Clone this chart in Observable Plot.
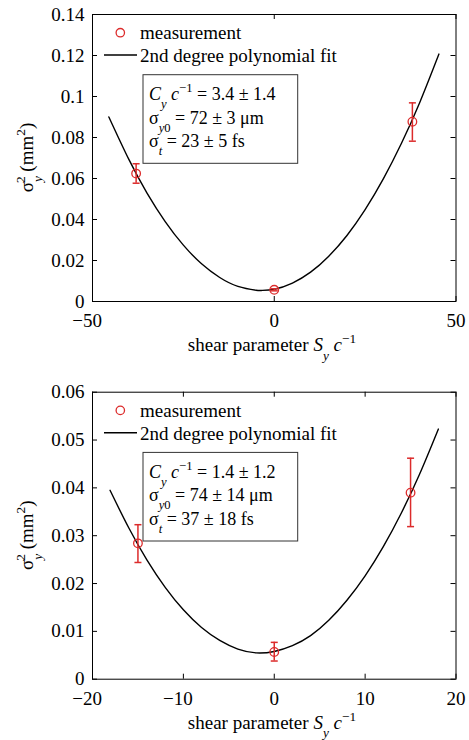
<!DOCTYPE html>
<html>
<head>
<meta charset="utf-8">
<script src="https://cdn.jsdelivr.net/npm/d3@7"></script>
<script src="https://cdn.jsdelivr.net/npm/@observablehq/plot@0.6"></script>
<style>
  html, body { margin: 0; padding: 0; background: white; font-family: "Liberation Serif"; }
  svg { display: block; }
  #chart { width: 469px; }
</style>
</head>
<body>
<div id="chart"></div>
<script>
// ---------- Top panel data ----------
const topXTicks = [-50, 0, 50];
const topYTicks = [0, 0.02, 0.04, 0.06, 0.08, 0.1, 0.12, 0.14];
const topYTickLabels = ["0", "0.02", "0.04", "0.06", "0.08", "0.1", "0.12", "0.14"];
const topShear = [-38, 0, 38];
const topSigma2 = [0.0624, 0.0057, 0.0877];
const topErrLo = [0.0577, 0.0052, 0.0782];
const topErrHi = [0.0672, 0.0062, 0.0969];
const topFitX = [-45.5, -40, -35, -30, -25, -20, -15, -10, -5, -3.6, 0, 5, 10, 15, 20, 25, 30, 35, 40, 45.3];
const topFitY = [0.0900, 0.0693, 0.0529, 0.0390, 0.0275, 0.0184, 0.0117, 0.0074, 0.0055, 0.0054, 0.0060, 0.0090, 0.0143, 0.0221, 0.0322, 0.0448, 0.0598, 0.0772, 0.0970, 0.1207];
const topFitParams = ["3.4 ± 1.4", "72 ± 3 μm", "23 ± 5 fs"];

// ---------- Bottom panel data ----------
const botXTicks = [-20, -10, 0, 10, 20];
const botYTicks = [0, 0.01, 0.02, 0.03, 0.04, 0.05, 0.06];
const botYTickLabels = ["0", "0.01", "0.02", "0.03", "0.04", "0.05", "0.06"];
const botShear = [-15, 0, 15];
const botSigma2 = [0.0284, 0.0057, 0.0390];
const botErrLo = [0.0244, 0.0038, 0.0319];
const botErrHi = [0.0323, 0.0077, 0.0462];
const botFitX = [-18.07, -16, -14, -12, -10, -8, -6, -4, -2, 0, 2, 4, 6, 8, 10, 12, 14, 16, 18.06];
const botFitY = [0.0395, 0.0316, 0.0249, 0.0192, 0.0145, 0.0108, 0.0081, 0.0063, 0.0055, 0.0058, 0.0070, 0.0091, 0.0123, 0.0165, 0.0216, 0.0277, 0.0348, 0.0429, 0.0523];
const botFitParams = ["1.4 ± 1.2", "74 ± 14 μm", "37 ± 18 fs"];

const legendLabels = ["measurement", "2nd degree polynomial fit"];

const RED = "#dc2b2b";
const FONT = "Liberation Serif";
const W = 469;

function rich(parent, x, y, parts, size, anchor = "start") {
  const t = parent.append("text")
    .attr("x", x).attr("y", y)
    .attr("font-size", size)
    .attr("text-anchor", anchor)
    .attr("fill", "black")
    .style("white-space", "pre");
  let cur = 0;
  for (const p of parts) {
    const off = p.sub ? size * 0.45 : p.sup ? -size * 0.42 : 0;
    const ts = t.append("tspan").text(p.t).attr("dy", off - cur);
    if (p.dx) ts.attr("dx", p.dx);
    cur = off;
    if (p.sub || p.sup) ts.attr("font-size", size * 0.7);
    if (p.it) ts.attr("font-style", "italic");
  }
  return t;
}

function panel(cfg) {
  const ml = 92, mr = 13.5;
  const {height, mt, mb} = cfg;
  const innerH = height - mt - mb, innerW = W - ml - mr;
  const pts = cfg.X.map((x, i) => ({x, y: cfg.Y[i], lo: cfg.lo[i], hi: cfg.hi[i]}));
  const fit = cfg.fitX.map((x, i) => ({x, y: cfg.fitY[i]}));
  const cap = {draw(ctx, size) { const w = Math.sqrt(size / Math.PI); ctx.moveTo(-w, 0); ctx.lineTo(w, 0); }};
  const negTicks = cfg.xTicks.filter(d => d < 0);
  const posTicks = cfg.xTicks.filter(d => d >= 0);
  const svg = Plot.plot({
    width: W, height,
    marginLeft: ml, marginRight: mr, marginTop: mt, marginBottom: mb,
    style: "background: white; color: black; font-size: 19px;",
    x: {domain: cfg.xDomain},
    y: {domain: cfg.yDomain},
    marks: [
      Plot.line(fit, {x: "x", y: "y", curve: "natural", stroke: "black", strokeWidth: 1.4}),
      Plot.ruleX(pts, {x: "x", y1: "lo", y2: "hi", stroke: RED, strokeWidth: 1.5}),
      Plot.dot(pts, {x: "x", y: "lo", symbol: cap, r: 3.5, stroke: RED, strokeWidth: 1.5}),
      Plot.dot(pts, {x: "x", y: "hi", symbol: cap, r: 3.5, stroke: RED, strokeWidth: 1.5}),
      Plot.dot(pts, {x: "x", y: "y", r: 4.3, stroke: RED, fill: "none", strokeWidth: 1.3}),
      Plot.tickX(cfg.xTicks, {x: d => d, insetTop: innerH - 5, stroke: "black"}),
      Plot.tickX(cfg.xTicks, {x: d => d, insetBottom: innerH - 5, stroke: "black"}),
      Plot.tickY(cfg.yTicks, {y: d => d, insetLeft: innerW - 5, stroke: "black"}),
      Plot.tickY(cfg.yTicks, {y: d => d, insetRight: innerW - 5, stroke: "black"}),
      Plot.axisX(negTicks, {tickSize: 0, tickPadding: 12, label: null, fontSize: 19, dx: -5.4}),
      Plot.axisX(posTicks, {tickSize: 0, tickPadding: 12, label: null, fontSize: 19}),
      Plot.axisY(cfg.yTicks, {tickSize: 0, tickPadding: 8, label: null, fontSize: 19,
        tickFormat: d => cfg.yLabels[cfg.yTicks.indexOf(d)]}),
      Plot.frame({stroke: "black"})
    ]
  });

  const g = d3.select(svg).append("g");
  const fx = ml, fy = mt;
  // legend
  g.append("circle").attr("cx", fx + 28.3).attr("cy", fy + 18.7).attr("r", 4.2)
    .attr("fill", "none").attr("stroke", RED).attr("stroke-width", 1.3);
  rich(g, fx + 48, fy + 25, [{t: legendLabels[0]}], 19);
  g.append("line").attr("x1", fx + 12).attr("x2", fx + 45).attr("y1", fy + 41).attr("y2", fy + 41)
    .attr("stroke", "black").attr("stroke-width", 1.4);
  rich(g, fx + 48, fy + 48, [{t: legendLabels[1]}], 19);
  // annotation box
  g.append("rect").attr("x", fx + 51).attr("y", fy + 60.7).attr("width", 154.7).attr("height", 88.6)
    .attr("fill", "white").attr("stroke", "#333").attr("stroke-width", 1);
  const tx = fx + 57;
  rich(g, tx, fy + 86, [{t: "C", it: true}, {t: "y", it: true, sub: true}, {t: " "}, {t: "c", it: true},
    {t: "−1", sup: true}, {t: " = " + cfg.params[0]}], 18);
  rich(g, tx, fy + 109.5, [{t: "σ"}, {t: "y", it: true, sub: true}, {t: "0", sub: true},
    {t: " = " + cfg.params[1]}], 18);
  rich(g, tx, fy + 133, [{t: "σ"}, {t: "t", it: true, sub: true}, {t: " = " + cfg.params[2]}], 18);

  // axis labels
  const cy = mt + innerH / 2;
  const yl = g.append("g").attr("transform", `translate(33,${cy}) rotate(-90)`);
  rich(yl, 0, 0, [{t: "σ"}, {t: "y", it: true, sub: true}, {t: "2", sup: true, dx: -7},
    {t: " (mm"}, {t: "2", sup: true}, {t: ")"}], 19, "middle");
  rich(g, 272, mt + innerH + 50, [{t: "shear parameter "}, {t: "S", it: true}, {t: "y", it: true, sub: true},
    {t: " "}, {t: "c", it: true}, {t: "−1", sup: true}], 19, "middle");

  // serif face on every text element
  d3.select(svg).attr("font-family", FONT);
  d3.select(svg).selectAll("g").attr("font-family", FONT);
  d3.select(svg).selectAll("text").attr("font-family", FONT);
  return svg;
}

const chart = document.getElementById("chart");
chart.appendChild(panel({
  height: 366, mt: 14, mb: 65,
  xDomain: [-50, 50], yDomain: [0, 0.14],
  xTicks: topXTicks, yTicks: topYTicks, yLabels: topYTickLabels,
  X: topShear, Y: topSigma2, lo: topErrLo, hi: topErrHi,
  fitX: topFitX, fitY: topFitY, params: topFitParams
}));
chart.appendChild(panel({
  height: 374, mt: 25.7, mb: 61.3,
  xDomain: [-20, 20], yDomain: [0, 0.06],
  xTicks: botXTicks, yTicks: botYTicks, yLabels: botYTickLabels,
  X: botShear, Y: botSigma2, lo: botErrLo, hi: botErrHi,
  fitX: botFitX, fitY: botFitY, params: botFitParams
}));
</script>
</body>
</html>
